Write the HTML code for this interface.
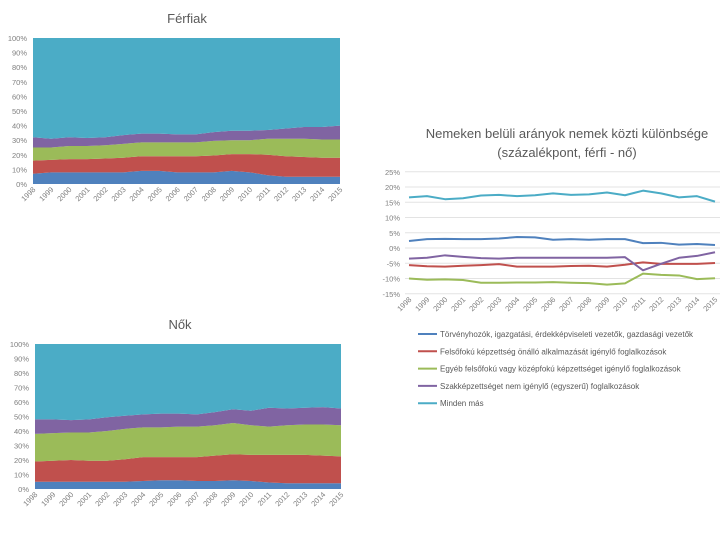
<!DOCTYPE html>
<html><head><meta charset="utf-8"><style>
body{margin:0;background:#fff;font-family:"Liberation Sans",sans-serif}
svg text{font-family:"Liberation Sans",sans-serif}
</style></head><body>
<svg id="s" width="720" height="540" xmlns="http://www.w3.org/2000/svg">
<text x="187" y="23" text-anchor="middle" font-size="13" fill="#595959">Férfiak</text>
<text x="180" y="329" text-anchor="middle" font-size="13" fill="#595959">Nők</text>
<text x="567" y="138" text-anchor="middle" font-size="13" fill="#595959">Nemeken belüli arányok nemek közti különbsége</text>
<text x="567" y="157" text-anchor="middle" font-size="13" fill="#595959">(százalékpont, férfi - nő)</text>
</svg>
<script>
const years=["1998","1999","2000","2001","2002","2003","2004","2005","2006","2007","2008","2009","2010","2011","2012","2013","2014","2015"];
const seriesNames=["Törvényhozók, igazgatási, érdekképviseleti vezetők, gazdasági vezetők","Felsőfokú képzettség önálló alkalmazását igénylő foglalkozások","Egyéb felsőfokú vagy középfokú képzettséget igénylő foglalkozások","Szakképzettséget nem igénylő (egyszerű) foglalkozások","Minden más"];
const colors=["#4f81bd","#c0504d","#9bbb59","#8064a2","#4bacc6"];
// Men shares (%)
const menLeaders=[7,8,8,8,8,8,9,9,8,8,8,9,8,6,5,5,5,5];
const menHigher=[9,8.5,9,9,9.5,10,10,10,11,11,11.5,11.5,12.5,14,14,13.5,13,13];
const menOther=[9,8.5,9,9,9,9.5,9.5,9.5,9.5,9.5,10,9.5,9.5,11,12,12.5,12.5,12.5];
const menSimple=[7,6,6,5.5,5.5,6,6,6,5.5,5.5,6,6.5,6.5,6,7,8,8.5,9.5];
// Women shares (%)
const womenLeaders=[5,5,5,5,5,5,5.5,6,6,5.5,5.5,6,5.5,4.5,4,4,4,4];
const womenHigher=[14,14.5,15,14.5,14.5,15.5,16.5,16,16,16.5,17.5,18,18,19,19.5,19.5,19,18.5];
const womenOther=[19,19,19,19.5,20.5,21,20.5,20.5,21,21,21,21.5,20.5,19.5,20.5,21,21.5,21.5];
const womenSimple=[10,9.5,8.5,9,9.5,9,9,9.5,9,8.5,9,9.5,10,13,11.5,11.5,12,11.5];
// Difference (percentage points)
const diffLeaders=[2.3,2.9,3.0,2.9,2.9,3.1,3.6,3.5,2.7,2.9,2.7,2.9,2.9,1.6,1.7,1.1,1.3,1.0];
const diffHigher=[-5.6,-6.0,-6.1,-5.8,-5.6,-5.3,-6.1,-6.1,-6.1,-5.9,-5.8,-6.1,-5.5,-4.7,-5.2,-5.2,-5.2,-4.9];
const diffOther=[-10.0,-10.4,-10.3,-10.5,-11.4,-11.4,-11.3,-11.3,-11.2,-11.4,-11.5,-12.0,-11.6,-8.4,-8.8,-9.0,-10.2,-9.9];
const diffSimple=[-3.5,-3.2,-2.4,-2.9,-3.3,-3.5,-3.2,-3.2,-3.2,-3.2,-3.2,-3.2,-3.0,-7.3,-5.2,-3.2,-2.6,-1.4];
const diffRest=[16.6,17.0,16.0,16.3,17.2,17.4,17.0,17.3,17.9,17.4,17.6,18.2,17.3,18.8,17.9,16.6,17.0,15.2];
const pctTicks=[0,10,20,30,40,50,60,70,80,90,100];
const diffTicks=[-15,-10,-5,0,5,10,15,20,25];

const S=document.getElementById('s');const NS="http://www.w3.org/2000/svg";
function mk(t,a,p){const e=document.createElementNS(NS,t);for(const k in a)e.setAttribute(k,a[k]);(p||S).appendChild(e);return e;}

function stacked(x0,x1,yTop,yBot,series,prefix){
  const g=mk('g',{});
  
  
  const n=years.length;
  const xs=i=>x0+(x1-x0)*i/(n-1);
  const ys=v=>yBot-(yBot-yTop)*v/100;
  let base=years.map(()=>0);
  const all=series.concat([years.map((_,i)=>100-series.reduce((s,a)=>s+a[i],0))]);
  all.forEach((arr,k)=>{
    const top=base.map((b,i)=>b+arr[i]);
    let d='M'+years.map((_,i)=>xs(i)+','+ys(top[i])).join('L');
    for(let i=n-1;i>=0;i--)d+='L'+xs(i)+','+ys(base[i]);
    const p=mk('path',{d:d+'Z',fill:colors[k]},g);
    
    
    base=top;
  });
  pctTicks.forEach(t=>{
    const tx=mk('text',{x:x0-6,y:ys(t)+3,'text-anchor':'end','font-size':7.5,fill:'#7f7f7f'},g);
    tx.textContent=t+'%';
    
    
  });
  years.forEach((y,i)=>{
    const X=xs(i)+3,Y=yBot+6;
    const tx=mk('text',{x:X,y:Y,'text-anchor':'end','font-size':7.5,fill:'#7f7f7f',transform:`rotate(-45 ${X} ${Y})`},g);
    tx.textContent=y;
    
    
  });
}
stacked(33,340,38,184,[menLeaders,menHigher,menOther,menSimple],'men');
stacked(35,341,344,489,[womenLeaders,womenHigher,womenOther,womenSimple],'women');

// line chart
(function(){
  const g=mk('g',{});
  
  
  const x0=409,x1=715,n=years.length;
  const xs=i=>x0+(x1-x0)*i/(n-1);
  const ys=v=>248-v*3.05;
  diffTicks.forEach(t=>{
    const l=mk('line',{x1:405,x2:720,y1:ys(t),y2:ys(t),stroke:'#e3e3e3','stroke-width':1},g);
    
    
    const tx=mk('text',{x:400,y:ys(t)+3,'text-anchor':'end','font-size':7.5,fill:'#7f7f7f'},g);
    tx.textContent=t+'%';
    
    
  });
  years.forEach((y,i)=>{
    const X=xs(i)+3,Y=300;
    const tx=mk('text',{x:X,y:Y,'text-anchor':'end','font-size':7.5,fill:'#7f7f7f',transform:`rotate(-45 ${X} ${Y})`},g);
    tx.textContent=y;
    
    
  });
  [diffLeaders,diffHigher,diffOther,diffSimple,diffRest].forEach((arr,k)=>{
    const p=mk('polyline',{points:arr.map((v,i)=>xs(i)+','+ys(v)).join(' '),fill:'none',stroke:colors[k],'stroke-width':2,'stroke-linejoin':'round'},g);
    
    
  });
  seriesNames.forEach((nm,k)=>{
    const y=334+k*17.3;
    const l=mk('line',{x1:418,x2:437,y1:y,y2:y,stroke:colors[k],'stroke-width':2},g);
    
    
    const tx=mk('text',{x:440,y:y+3,'font-size':8,fill:'#595959'},g);
    tx.textContent=nm;
    
    
  });
})();
</script>
</body></html>
